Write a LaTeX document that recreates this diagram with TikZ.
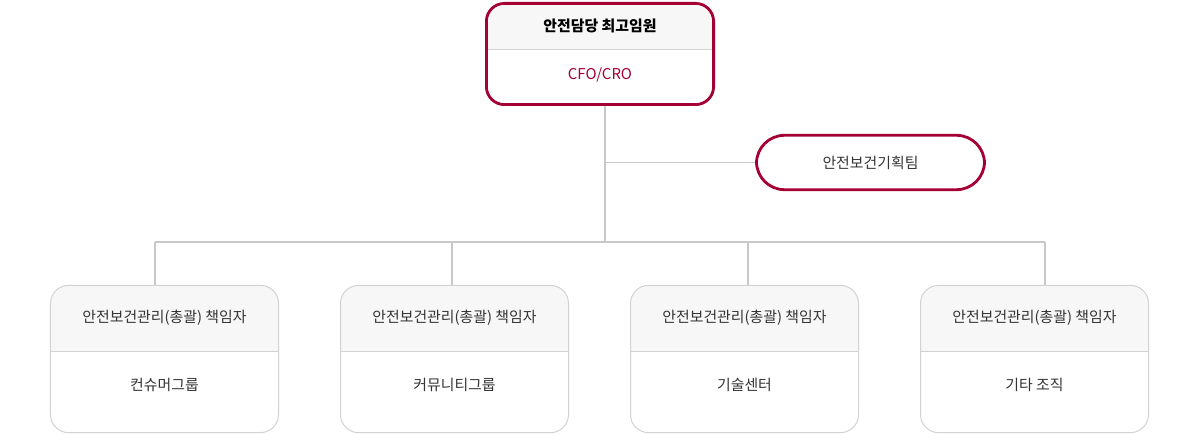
\documentclass[tikz,border=0pt]{standalone}
\usepackage{fontspec}
\setmainfont{Noto Sans CJK KR}
\definecolor{lgred}{HTML}{A50034}
\definecolor{headgray}{HTML}{F7F7F7}
\definecolor{linegray}{HTML}{C8C8C8}
\definecolor{boxgray}{HTML}{D2D2D2}
\definecolor{txtgray}{HTML}{333333}

\begin{document}
\begin{tikzpicture}[x=0.25mm, y=-0.25mm,
    every node/.style={font=\fontsize{10.6}{12}\selectfont, text=txtgray},
    topbox/.style={draw=lgred, line width=0.7mm, rounded corners=4.5mm,
      minimum width=56.8mm, minimum height=25.3mm,
      path picture={\fill[headgray, sharp corners] (path picture bounding box.north west) rectangle ([yshift=1mm]path picture bounding box.east);
        \draw[boxgray, line width=0.25mm] ([yshift=1mm]path picture bounding box.west) -- ([yshift=1mm]path picture bounding box.east);}},
    teambox/.style={draw=lgred, line width=0.7mm, rounded corners=7mm,
      minimum width=57mm, minimum height=13.6mm},
    unitbox/.style={draw=boxgray, line width=0.25mm, rounded corners=4.5mm,
      minimum width=57mm, minimum height=36.8mm,
      path picture={\fill[headgray, sharp corners] (path picture bounding box.north west) rectangle ([yshift=1.75mm]path picture bounding box.east);
        \draw[boxgray, line width=0.25mm] ([yshift=1.75mm]path picture bounding box.west) -- ([yshift=1.75mm]path picture bounding box.east);}},
    link/.style={draw=linegray, line width=0.3mm}]
  \useasboundingbox (0,0) rectangle (1200,434);

  \node[topbox] (cso) at (600,54) {};
  \node[font=\fontsize{10.6}{12}\selectfont\bfseries, text=black] (csohead) at (600,26) {안전담당 최고임원};
  \node[text=lgred] (csobody) at (600,75) {CFO/CRO};

  \node[teambox] (plan) at (870.5,162.5) {안전보건기획팀};

  \coordinate (trunk) at (605,242);
  \draw[link] (cso.south -| trunk) -- (trunk);
  \draw[link] (plan.west -| trunk) -- (plan.west);

  \foreach \i/\bx/\dx/\unit in {1/164.5/155/컨슈머그룹, 2/454.5/452/커뮤니티그룹,
      3/744.5/748/기술센터, 4/1034.5/1045/기타 조직}{
    \node[unitbox] (b\i) at (\bx,359) {};
    \node (h\i) at (\bx,318) {안전보건관리(총괄) 책임자};
    \node (u\i) at (\bx,385) {\unit};
    \coordinate (d\i) at (\dx,242);
    \draw[link] (d\i) -- (d\i |- b\i.north);
  }
  \draw[link] (d1) -- (d4);
\end{tikzpicture}
\end{document}
